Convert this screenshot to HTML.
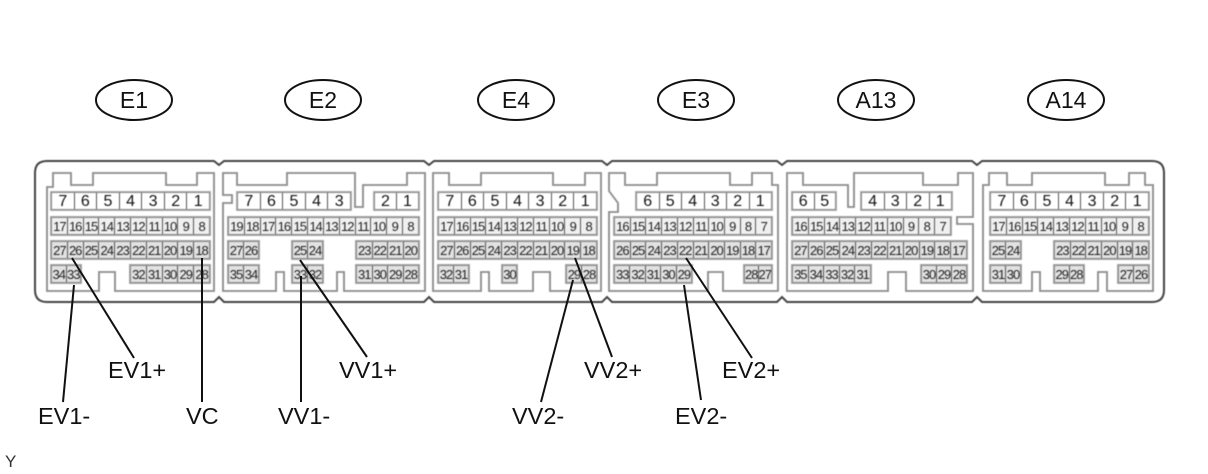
<!DOCTYPE html>
<html>
<head>
<meta charset="utf-8">
<style>
html,body{margin:0;padding:0;background:#fff;width:1208px;height:474px;overflow:hidden}
body{position:relative;font-family:"Liberation Sans",sans-serif;color:#222}
svg{position:absolute;left:0;top:0}
#cells{position:absolute;left:0;top:0;width:1208px;height:474px;filter:blur(.5px)}
.r{position:absolute;display:flex;box-sizing:border-box;height:20px;border:2px solid #a8a8a8;background:#e6e6e6;outline:1px solid #8a8a8a;outline-offset:-2px}
.r i{flex:1 1 0;min-width:0;font-style:normal;text-align:center;font-size:13px;line-height:17px;letter-spacing:-1px;border-left:1px solid #555;color:#222;overflow:visible;white-space:nowrap}
.r i:first-child{border-left:0}
.a{top:191px;background:#fff;border-color:#b0b0b0}
.a i{font-size:16px;line-height:17px;letter-spacing:0;color:#111}
.b{top:216px;background:#f0f0f0}
.c{top:240px;background:#e2e2e2}
.d{top:264px;background:#e2e2e2}
.l{font-size:23.5px;fill:#111}
</style>
</head>
<body>
<svg width="1208" height="474" viewBox="0 0 1208 474" style="filter:blur(.4px)">
<path d="M47 161H214L219 165L224 161H424L429 165L434 161H602L607 165L612 161H777L782 165L787 161H972L977 165L982 161H1152Q1164 161 1164 173V290Q1164 302 1152 302H982L977 297L972 302H787L782 297L777 302H612L607 297L602 302H434L429 297L424 302H224L219 297L214 302H47Q35 302 35 290V173Q35 161 47 161Z" fill="#fff" stroke="#444" stroke-width="2"/>
<g fill="none" stroke="#8a8a8a" stroke-width="1.8">
<path d="M47 187H53V173H71V185H93V173H166V185H197V173H214V291H115V272H99V291H47Z"/>
<path d="M223 173H237V185H287V173H355V207H363V185H407V173H425V291H344V272H337V291H284V272H276V291H223V203H232V195H223Z"/>
<path d="M433 173H449V185H481V173H553V185H585V173H601V291H550V272H533V291H489V272H481V291H433Z"/>
<path d="M609 173H625V185H657V173H730V185H752V173H772V185H778V291H723V272H708V291H609V212H618V203L609 191Z"/>
<path d="M787 173H803V185H848V207H854V173H923V185H958V173H973V217H957V224H973V291H906V272H888V291H787Z"/>
<path d="M983 185H989V173H1007V185H1032V173H1105V185H1129V173H1145V185H1153V291H1107V272H1098V291H1040V272H1032V291H983Z"/>
</g>
</svg>
<div id="cells">
<!-- E1 -->
<div class="r a" style="left:50px;width:161px"><i>7</i><i>6</i><i>5</i><i>4</i><i>3</i><i>2</i><i>1</i></div>
<div class="r b" style="left:50px;width:161px"><i>17</i><i>16</i><i>15</i><i>14</i><i>13</i><i>12</i><i>11</i><i>10</i><i>9</i><i>8</i></div>
<div class="r c" style="left:50px;width:161px"><i>27</i><i>26</i><i>25</i><i>24</i><i>23</i><i>22</i><i>21</i><i>20</i><i>19</i><i>18</i></div>
<div class="r d" style="left:50px;width:32px"><i>34</i><i>33</i></div>
<div class="r d" style="left:129px;width:82px"><i>32</i><i>31</i><i>30</i><i>29</i><i>28</i></div>
<!-- E2 -->
<div class="r a" style="left:236px;width:116px"><i>7</i><i>6</i><i>5</i><i>4</i><i>3</i></div>
<div class="r a" style="left:373px;width:47px"><i>2</i><i>1</i></div>
<div class="r b" style="left:227px;width:193px"><i>19</i><i>18</i><i>17</i><i>16</i><i>15</i><i>14</i><i>13</i><i>12</i><i>11</i><i>10</i><i>9</i><i>8</i></div>
<div class="r c" style="left:227px;width:33px"><i>27</i><i>26</i></div>
<div class="r c" style="left:291px;width:33px"><i>25</i><i>24</i></div>
<div class="r c" style="left:355px;width:65px"><i>23</i><i>22</i><i>21</i><i>20</i></div>
<div class="r d" style="left:227px;width:33px"><i>35</i><i>34</i></div>
<div class="r d" style="left:291px;width:33px"><i>33</i><i>32</i></div>
<div class="r d" style="left:355px;width:65px"><i>31</i><i>30</i><i>29</i><i>28</i></div>
<!-- E4 -->
<div class="r a" style="left:437px;width:161px"><i>7</i><i>6</i><i>5</i><i>4</i><i>3</i><i>2</i><i>1</i></div>
<div class="r b" style="left:437px;width:161px"><i>17</i><i>16</i><i>15</i><i>14</i><i>13</i><i>12</i><i>11</i><i>10</i><i>9</i><i>8</i></div>
<div class="r c" style="left:437px;width:161px"><i>27</i><i>26</i><i>25</i><i>24</i><i>23</i><i>22</i><i>21</i><i>20</i><i>19</i><i>18</i></div>
<div class="r d" style="left:437px;width:33px"><i>32</i><i>31</i></div>
<div class="r d" style="left:501px;width:17px"><i>30</i></div>
<div class="r d" style="left:565px;width:33px"><i>29</i><i>28</i></div>
<!-- E3 -->
<div class="r a" style="left:635px;width:138px"><i>6</i><i>5</i><i>4</i><i>3</i><i>2</i><i>1</i></div>
<div class="r b" style="left:613px;width:160px"><i>16</i><i>15</i><i>14</i><i>13</i><i>12</i><i>11</i><i>10</i><i>9</i><i>8</i><i>7</i></div>
<div class="r c" style="left:613px;width:160px"><i>26</i><i>25</i><i>24</i><i>23</i><i>22</i><i>21</i><i>20</i><i>19</i><i>18</i><i>17</i></div>
<div class="r d" style="left:613px;width:80px"><i>33</i><i>32</i><i>31</i><i>30</i><i>29</i></div>
<div class="r d" style="left:743px;width:30px"><i>28</i><i>27</i></div>
<!-- A13 -->
<div class="r a" style="left:791px;width:46px"><i>6</i><i>5</i></div>
<div class="r a" style="left:860px;width:93px"><i>4</i><i>3</i><i>2</i><i>1</i></div>
<div class="r b" style="left:791px;width:161px"><i>16</i><i>15</i><i>14</i><i>13</i><i>12</i><i>11</i><i>10</i><i>9</i><i>8</i><i>7</i></div>
<div class="r c" style="left:791px;width:177px"><i>27</i><i>26</i><i>25</i><i>24</i><i>23</i><i>22</i><i>21</i><i>20</i><i>19</i><i>18</i><i>17</i></div>
<div class="r d" style="left:791px;width:81px"><i>35</i><i>34</i><i>33</i><i>32</i><i>31</i></div>
<div class="r d" style="left:920px;width:48px"><i>30</i><i>29</i><i>28</i></div>
<!-- A14 -->
<div class="r a" style="left:989px;width:161px"><i>7</i><i>6</i><i>5</i><i>4</i><i>3</i><i>2</i><i>1</i></div>
<div class="r b" style="left:989px;width:161px"><i>17</i><i>16</i><i>15</i><i>14</i><i>13</i><i>12</i><i>11</i><i>10</i><i>9</i><i>8</i></div>
<div class="r c" style="left:989px;width:33px"><i>25</i><i>24</i></div>
<div class="r c" style="left:1053px;width:97px"><i>23</i><i>22</i><i>21</i><i>20</i><i>19</i><i>18</i></div>
<div class="r d" style="left:989px;width:33px"><i>31</i><i>30</i></div>
<div class="r d" style="left:1053px;width:32px"><i>29</i><i>28</i></div>
<div class="r d" style="left:1117px;width:33px"><i>27</i><i>26</i></div>
</div>
<svg width="1208" height="474" viewBox="0 0 1208 474">
<g fill="#fff" stroke="#111" stroke-width="2">
<ellipse cx="134" cy="100" rx="38" ry="20"/>
<ellipse cx="323" cy="100" rx="38" ry="20"/>
<ellipse cx="516" cy="100" rx="38" ry="20"/>
<ellipse cx="696" cy="100" rx="38" ry="20"/>
<ellipse cx="876" cy="100" rx="38" ry="20"/>
<ellipse cx="1066" cy="100" rx="38" ry="20"/>
</g>
<g text-anchor="middle" font-size="23" fill="#111">
<text x="134" y="108">E1</text>
<text x="323" y="108">E2</text>
<text x="516" y="108">E4</text>
<text x="696" y="108">E3</text>
<text x="876" y="108">A13</text>
<text x="1066" y="108">A14</text>
</g>
<g stroke="#111" stroke-width="2" fill="none">
<path d="M74 285L63 402"/>
<path d="M72 258L134 358"/>
<path d="M202 258V402"/>
<path d="M301 276V402"/>
<path d="M300 260L367 357"/>
<path d="M573 280L541 402"/>
<path d="M575 258L612 357"/>
<path d="M684 285L701 400"/>
<path d="M686 258L752 358"/>
</g>
<text class="l" x="108" y="378">EV1+</text>
<text class="l" x="38" y="424">EV1-</text>
<text class="l" x="186" y="424">VC</text>
<text class="l" x="278" y="424">VV1-</text>
<text class="l" x="339" y="378">VV1+</text>
<text class="l" x="512" y="424">VV2-</text>
<text class="l" x="584" y="378">VV2+</text>
<text class="l" x="675" y="424">EV2-</text>
<text class="l" x="722" y="378">EV2+</text>
<text x="5" y="467" font-size="17" fill="#333">Y</text>
</svg>
</body>
</html>
